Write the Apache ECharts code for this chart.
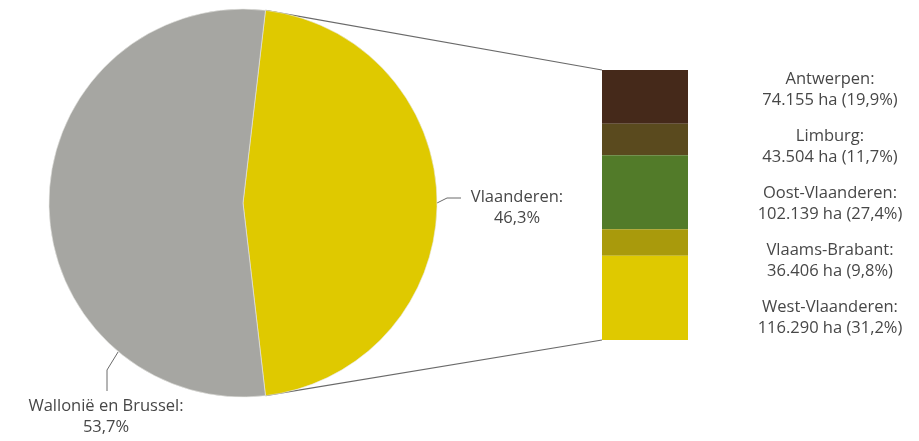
<!DOCTYPE html>
<html lang="nl">
<head>
    <meta charset="UTF-8">
    <title>Oppervlakte per gewest en provincie</title>
    <script src="https://cdn.jsdelivr.net/npm/echarts@6/dist/echarts.min.js"></script>
</head>
<body style="margin:0">
<div id="main" style="width: 919px;height: 441px;"></div>
<script>
    // gewesten (aandeel in %)
    var regionNames = ['Vlaanderen', 'Wallonië en Brussel'];
    var regionShares = [46.3, 53.7];
    var regionColors = ['#dfc900', '#a6a6a2'];

    // provincies in Vlaanderen (ha), van boven naar onder
    var provinceNames = ['Antwerpen', 'Limburg', 'Oost-Vlaanderen', 'Vlaams-Brabant', 'West-Vlaanderen'];
    var provinceHa = [74155, 43504, 102139, 36406, 116290];
    var provinceColors = ['#45291a', '#5a4a1e', '#527b29', '#a99a0c', '#dfc900'];

    var total = 0;
    for (var i = 0; i < provinceHa.length; i++) total += provinceHa[i];

    var textColor = '#474747';
    var font = 'Open Sans';
    var fontSize = 16.5;

    // pie geometry
    var cx = 243, cy = 203, r = 194;
    var startAngle = regionShares[0] / 100 * 360 / 2;
    // stacked bar geometry
    var barLeft = 602, barTop = 70, barWidth = 86, barHeight = 270;

    function onCircle(deg, extra) {
        var a = deg * Math.PI / 180;
        var rr = r + (extra || 0);
        return [cx + rr * Math.cos(a), cy - rr * Math.sin(a)];
    }
    function nl(v, d) {
        return v.toFixed(d).replace('.', ',');
    }
    function thousands(v) {
        return String(v).replace(/\B(?=(\d{3})+(?!\d))/g, '.');
    }

    var barSeries = provinceNames.map(function (name, idx) {
        return {
            name: name,
            type: 'bar',
            stack: 'prov',
            barWidth: '100%',
            data: [provinceHa[idx]],
            itemStyle: {color: provinceColors[idx]},
            label: {
                show: true,
                position: 'right',
                color: textColor,
                fontFamily: font,
                fontSize: fontSize,
                lineHeight: 21,
                align: 'center',
                formatter: function () {
                    return name + ':\n' + thousands(provinceHa[idx]) + ' ha (' + nl(provinceHa[idx] / total * 100, 1) + '%)';
                }
            },
            labelLayout: function () {
                return {x: 830, y: 90 + idx * 57, align: 'center', verticalAlign: 'middle'};
            }
        };
    });

    var pieLabelPos = [
        {x: 517, y: 208, line: [onCircle(0), [447, 198], [461, 198]]},
        {x: 106, y: 417, line: [onCircle(-130), [107, 370], [107, 391]]}
    ];

    var option = {
        animation: false,
        backgroundColor: '#fff',
        grid: {left: barLeft, top: barTop, width: barWidth, height: barHeight},
        xAxis: {type: 'category', data: ['Vlaanderen'], show: false},
        yAxis: {type: 'value', inverse: true, min: 0, max: total, show: false},
        graphic: [
            {
                type: 'line', z: 0,
                shape: {x1: onCircle(startAngle)[0], y1: onCircle(startAngle)[1], x2: barLeft, y2: barTop},
                style: {stroke: '#6a6a6a', lineWidth: 1.2}
            },
            {
                type: 'line', z: 0,
                shape: {x1: onCircle(-startAngle)[0], y1: onCircle(-startAngle)[1], x2: barLeft, y2: barTop + barHeight},
                style: {stroke: '#6a6a6a', lineWidth: 1.2}
            }
        ],
        series: [{
            type: 'pie',
            z: 5,
            center: [cx, cy],
            radius: r,
            startAngle: startAngle,
            clockwise: true,
            avoidLabelOverlap: false,
            data: regionNames.map(function (n, k) {
                return {name: n, value: regionShares[k], itemStyle: {color: regionColors[k]}};
            }),
            itemStyle: {borderColor: '#e8e8e4', borderWidth: 0.6},
            label: {
                show: true,
                color: textColor,
                fontFamily: font,
                fontSize: fontSize,
                lineHeight: 21,
                align: 'center',
                overflow: 'none',
                formatter: function (p) {
                    return p.name + ':\n' + nl(p.value, 1) + '%';
                }
            },
            labelLine: {show: true, lineStyle: {color: '#6a6a6a', width: 1}},
            labelLayout: function (p) {
                var q = pieLabelPos[p.dataIndex];
                return {x: q.x, y: q.y, align: 'center', verticalAlign: 'middle', labelLinePoints: q.line};
            }
        }].concat(barSeries)
    };

    var myChart = echarts.init(document.getElementById('main'));
    myChart.setOption(option);
</script>
</body>
</html>
